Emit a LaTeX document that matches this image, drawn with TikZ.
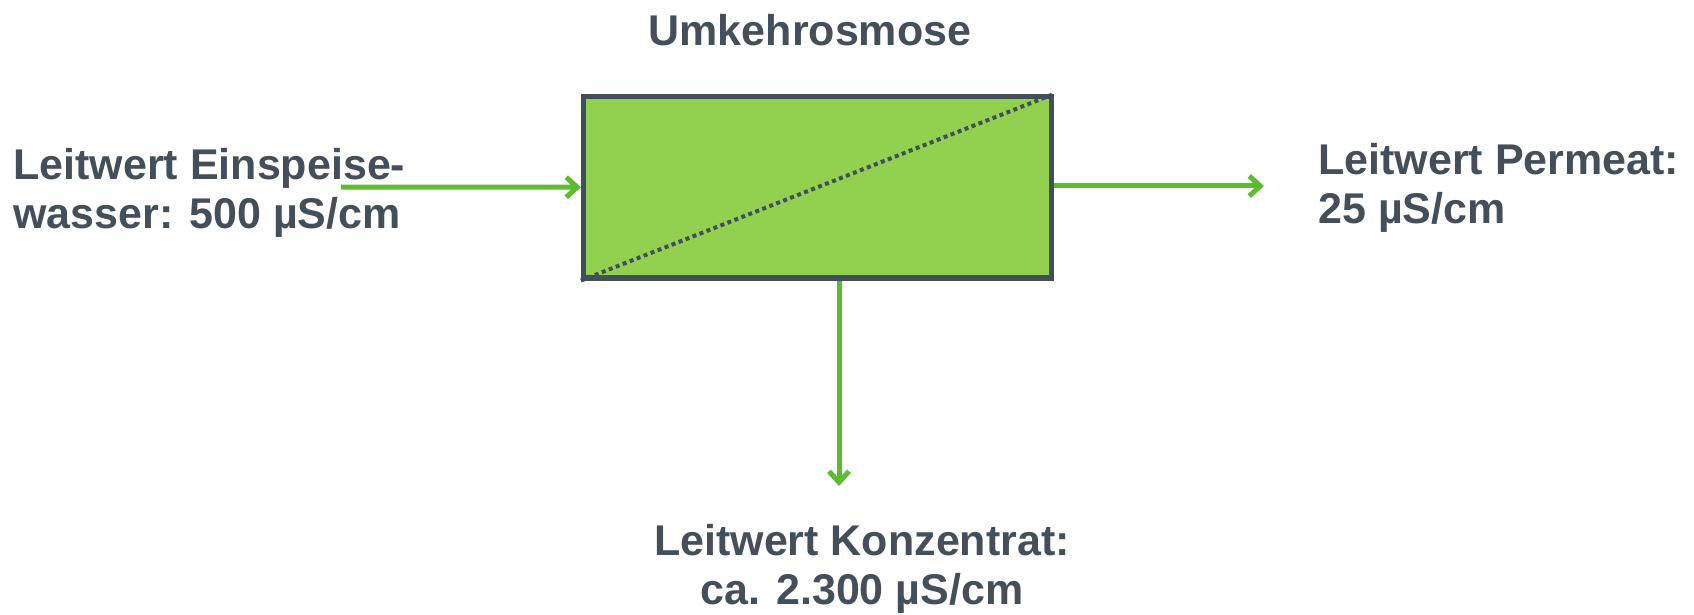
\documentclass[tikz,border=0pt]{standalone}
\usepackage{fontspec}
\setmainfont{Liberation Sans}
\usetikzlibrary{arrows.meta,calc}
\definecolor{txt}{HTML}{434F5A}
\definecolor{boxfill}{HTML}{92D050}
\definecolor{boxline}{HTML}{424F5B}
\definecolor{flow}{HTML}{5DBB2E}
\begin{document}
\begin{tikzpicture}[x=0.5pt,y=-0.5pt,
  lbl/.style={text=txt,font=\bfseries\fontsize{21.5pt}{24.5pt}\selectfont,inner sep=0pt},
  flowline/.style={draw=flow,line width=2.5pt,-{Straight Barb[length=5.5pt,width=10pt,line width=2.5pt]}},
  membrane/.style={draw=boxline,fill=boxfill,line width=2.6pt,minimum width=234pt,minimum height=90.75pt,inner sep=0pt}]
\useasboundingbox (0,0) rectangle (1694,615);
\node[membrane] (box) at (817.5,187.25) {};
\draw[boxline,line width=2pt,dash pattern=on 2pt off 1.75pt] (box.south west) -- (box.north east);
\node[lbl] (title) at (810,30) {Umkehrosmose};
\node[lbl,align=left,anchor=west] (feed) at (13,193) {Leitwert Einspeise-\\wasser: 500 µS/cm};
\node[lbl,align=left,anchor=west] (perm) at (1318,188) {Leitwert Permeat:\\25 µS/cm};
\node[lbl,align=center] (konz) at (862,569) {Leitwert Konzentrat:\\ca. 2.300 µS/cm};
\coordinate (inA) at (341,187);
\coordinate (outA) at (1264,186);
\coordinate (dnA) at (839,486);
\draw[flowline] (inA) -- (box.west);
\draw[flowline] (box.east |- outA) -- (outA);
\draw[flowline] (box.south -| dnA) -- (dnA);
\end{tikzpicture}
\end{document}
